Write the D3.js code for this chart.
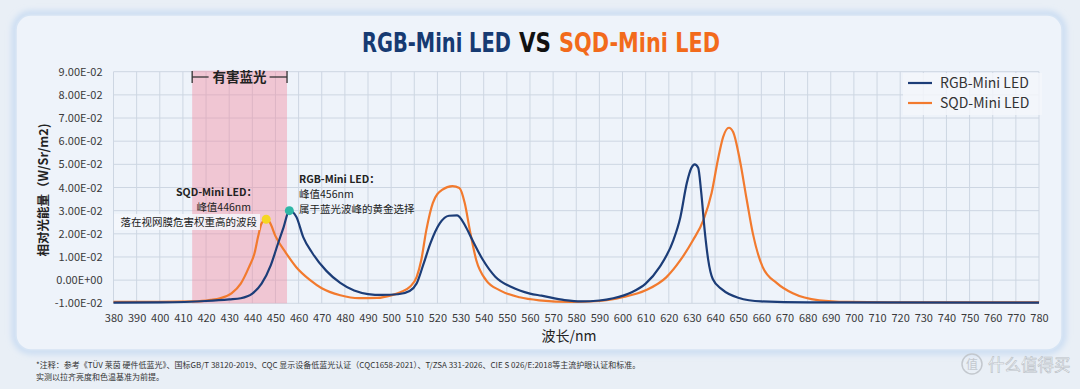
<!DOCTYPE html>
<html><head><meta charset="utf-8">
<script src="https://cdn.jsdelivr.net/npm/d3@7"></script>
<style>
html,body{margin:0;padding:0;background:#e9eff6;}
svg{display:block;font-family:"Noto Sans CJK SC","Noto Sans",sans-serif;}
</style></head>
<body><svg id="c" width="1080" height="389"></svg>
<script>
// ---- data ----
const rgbWave = [380,400,420,430,435,440,444,448,451,453.5,456,459,462,466,472,478,484,490,496,503,508,511,514,517,521,525,528.5,532,535,539.5,545,552,560,565,575,582,590,596,604,610,616,622,625,627.8,629.8,631.2,632.7,634,635.6,637,639,643,650,660,680,780];
const rgbValue = [-0.0097,-0.0096,-0.0090,-0.0083,-0.0078,-0.0058,-0.0015,0.0065,0.0155,0.0228,0.0300,0.0274,0.0186,0.0116,0.0040,-0.0012,-0.0045,-0.0060,-0.0064,-0.0061,-0.0047,-0.0015,0.0070,0.0160,0.0245,0.0278,0.0280,0.0235,0.0175,0.0090,0.0015,-0.0030,-0.0058,-0.0067,-0.0086,-0.0092,-0.0088,-0.0078,-0.0052,-0.0015,0.0056,0.0173,0.0272,0.0420,0.0485,0.0500,0.0485,0.0380,0.0205,0.0090,0.0005,-0.0040,-0.0076,-0.0092,-0.0096,-0.0097];
const sqdWave = [380,400,415,422,426,431,435,438.5,441,442.5,444,446,447.5,450,454.5,459,465,470,478,486,494,500,504,508,511,513,515.2,518,522,526.5,529.5,531.8,534,536.8,541,547,555.5,564,578,590,600,610,619,625,630.5,635,638.5,641.2,643.5,646,647.8,650.7,653.7,656.3,660.6,666.7,673.6,685,697,720,780];
const sqdValue = [-0.0094,-0.0094,-0.0092,-0.0085,-0.0078,-0.0057,-0.0015,0.0055,0.0118,0.0188,0.0245,0.0263,0.0250,0.0190,0.0118,0.0056,0.0000,-0.0035,-0.0065,-0.0078,-0.0077,-0.0066,-0.0052,-0.0030,0.0013,0.0086,0.0216,0.0333,0.0390,0.0406,0.0398,0.0333,0.0216,0.0086,0.0000,-0.0044,-0.0074,-0.0087,-0.0094,-0.0090,-0.0074,-0.0044,0.0013,0.0086,0.0173,0.0260,0.0376,0.0519,0.0619,0.0658,0.0640,0.0519,0.0346,0.0203,0.0056,-0.0013,-0.0057,-0.0087,-0.0094,-0.0096,-0.0096];
const seriesNames = ["RGB-Mini LED","SQD-Mini LED"];
const xTicks = d3.range(380, 781, 10);
const yTicks = [-0.01,0,0.01,0.02,0.03,0.04,0.05,0.06,0.07,0.08,0.09];
const yTickLabels = ["-1.00E-02","0.00E+00","1.00E-02","2.00E-02","3.00E-02","4.00E-02","5.00E-02","6.00E-02","7.00E-02","8.00E-02","9.00E-02"];
const bandRange = [414, 455];
const bandLabel = "有害蓝光";
const sqdPeak = [446, 0.0263];
const rgbPeak = [456, 0.0300];
const sqdNote = ["SQD-Mini LED：","峰值446nm","落在视网膜危害权重高的波段"];
const rgbNote = ["RGB-Mini LED：","峰值456nm","属于蓝光波峰的黄金选择"];
const titleParts = ["RGB-Mini LED","VS","SQD-Mini LED"];
const xTitle = "波长/nm";
const yTitle = "相对光能量（W/Sr/m2)";
const footLines = ["*注释：参考《TÜV 莱茵 硬件低蓝光》、国标GB/T 38120-2019、CQC 显示设备低蓝光认证（CQC1658-2021）、T/ZSA 331-2026、CIE S 026/E:2018等主流护眼认证和标准。","实测以拉齐亮度和色温基准为前提。"];

// ---- drawing ----
const svg = d3.select("#c");
const BLUE = "#1c3d78", ORANGE = "#f27a2e";
const defs = svg.append("defs");
const f = defs.append("filter").attr("id","glow").attr("x","-5%").attr("y","-10%").attr("width","110%").attr("height","120%");
f.append("feGaussianBlur").attr("stdDeviation",3);

// panel
svg.append("rect").attr("x",15).attr("y",14).attr("width",1048).attr("height",337).attr("rx",16)
  .attr("fill","none").attr("stroke","#bfd6f1").attr("stroke-width",5).attr("filter","url(#glow)");
svg.append("rect").attr("x",16).attr("y",15).attr("width",1046).attr("height",335).attr("rx",15)
  .attr("fill","#eef3fa").attr("stroke","#d6e4f4").attr("stroke-width",1.5);

const x = d3.scaleLinear().domain([380,780]).range([113.5,1039]);
const y = d3.scaleLinear().domain([-0.01,0.09]).range([303.3,71.7]);

// grid
const g = svg.append("g");
g.selectAll("line.v").data(xTicks).join("line").attr("class","v")
  .attr("x1",d=>x(d)).attr("x2",d=>x(d)).attr("y1",y(0.09)).attr("y2",y(-0.01))
  .attr("stroke","#cdd6e2").attr("stroke-width",1);
g.selectAll("line.h").data(yTicks).join("line").attr("class","h")
  .attr("x1",x(380)).attr("x2",x(780)).attr("y1",d=>y(d)).attr("y2",d=>y(d))
  .attr("stroke","#cdd6e2").attr("stroke-width",1);

// harmful band
svg.append("rect").attr("x",x(bandRange[0])).attr("y",y(0.09)-1).attr("width",x(bandRange[1])-x(bandRange[0]))
  .attr("height",y(-0.01)-y(0.09)+1).attr("fill","#f2899e").attr("opacity",0.42);
const bx0 = x(bandRange[0]), bx1 = x(bandRange[1]), bmid=(bx0+bx1)/2, by=77;
const br = svg.append("g").attr("stroke","#333").attr("stroke-width",1.3);
br.append("line").attr("x1",bx0).attr("x2",bx0).attr("y1",by-6).attr("y2",by+6);
br.append("line").attr("x1",bx1).attr("x2",bx1).attr("y1",by-6).attr("y2",by+6);
br.append("line").attr("x1",bx0).attr("x2",bmid-31).attr("y1",by).attr("y2",by);
br.append("line").attr("x1",bmid+30).attr("x2",bx1).attr("y1",by).attr("y2",by);
svg.append("text").attr("x",bmid).attr("y",by+5).attr("text-anchor","middle").attr("font-size",13.5)
  .attr("font-weight","bold").attr("fill","#222").text(bandLabel);

// axes labels
const yAxis = d3.axisLeft(y).tickValues(yTicks).tickSize(0).tickFormat((d,i)=>yTickLabels[i]);
svg.append("g").attr("transform",`translate(${x(380)-8},0)`).call(yAxis)
  .call(s=>s.select(".domain").remove())
  .call(s=>s.selectAll("text").attr("font-size",11).attr("fill","#3a3a3a").attr("font-family","'Noto Sans CJK SC',sans-serif").attr("dx",0));
const xAxis = d3.axisBottom(x).tickValues(xTicks).tickSize(0).tickFormat(d3.format("d"));
svg.append("g").attr("transform",`translate(0,${y(-0.01)+8})`).call(xAxis)
  .call(s=>s.select(".domain").remove())
  .call(s=>s.selectAll("text").attr("font-size",11).attr("fill","#3a3a3a").attr("font-family","'Noto Sans CJK SC',sans-serif"));

svg.append("text").attr("x",569).attr("y",341).attr("text-anchor","middle").attr("font-size",14).attr("fill","#222").text(xTitle);
svg.append("text").attr("transform","translate(48,190) rotate(-90)").attr("text-anchor","middle")
  .attr("font-size",12.5).attr("font-weight","bold").attr("fill","#222").text(yTitle);

// lines
const line = d3.line().x(d=>x(d[0])).y(d=>y(d[1])).curve(d3.curveMonotoneX);
const rgbData = rgbWave.map((w,i)=>[w,rgbValue[i]]);
const sqdData = sqdWave.map((w,i)=>[w,sqdValue[i]]);
svg.append("path").datum(sqdData).attr("d",line).attr("fill","none").attr("stroke",ORANGE).attr("stroke-width",2.2);
svg.append("path").datum(rgbData).attr("d",line).attr("fill","none").attr("stroke",BLUE).attr("stroke-width",2.2);

// peak dots
svg.append("circle").attr("cx",x(sqdPeak[0])).attr("cy",y(sqdPeak[1])).attr("r",4.5).attr("fill","#f5d623");
svg.append("circle").attr("cx",x(rgbPeak[0])).attr("cy",y(rgbPeak[1])).attr("r",4.5).attr("fill","#2fb7a6");

// annotations
svg.append("rect").attr("x",114).attr("y",214).attr("width",146).attr("height",16).attr("fill","#f4f7fb").attr("opacity",0.85);
const sa = svg.append("g").attr("font-size",10.5).attr("fill","#222").attr("text-anchor","end");
sa.append("text").attr("x",257).attr("y",196).attr("font-weight","bold").text(sqdNote[0]);
sa.append("text").attr("x",251).attr("y",211).text(sqdNote[1]);
sa.append("text").attr("x",257).attr("y",226).text(sqdNote[2]);
const ra = svg.append("g").attr("font-size",10.5).attr("fill","#222");
ra.append("text").attr("x",299).attr("y",183).attr("font-weight","bold").text(rgbNote[0]);
ra.append("text").attr("x",299).attr("y",198).text(rgbNote[1]);
ra.append("text").attr("x",299).attr("y",213).text(rgbNote[2]);

// legend
svg.append("rect").attr("x",903).attr("y",73).attr("width",139).attr("height",42).attr("fill","#f3f6fa").attr("opacity",0.85);
const lg = svg.append("g");
[BLUE,ORANGE].forEach((c,i)=>{
  lg.append("line").attr("x1",908).attr("x2",932).attr("y1",83+i*20).attr("y2",83+i*20).attr("stroke",c).attr("stroke-width",2.2);
  lg.append("text").attr("x",940).attr("y",88+i*20).attr("font-size",14).attr("fill","#333").text(seriesNames[i]);
});

// title (each part scaled horizontally to its measured target width)
const tf = "'DejaVu Sans Condensed','DejaVu Sans',sans-serif";
const tParts = [[362,149,"#163a72"],[519,32,"#111"],[559,161,"#f26a1b"]];
titleParts.forEach((s,i)=>{
  const el = svg.append("text").attr("x",0).attr("y",0).attr("font-size",27).attr("font-weight","bold")
    .attr("font-family",tf).attr("fill",tParts[i][2]).text(s);
  const w = el.node().getComputedTextLength();
  el.attr("transform",`translate(${tParts[i][0]},52) scale(${tParts[i][1]/w},1)`);
});

// footnote
footLines.forEach((s,i)=>{
  svg.append("text").attr("x",36).attr("y",368+i*12).attr("font-size",8).attr("fill","#333").text(s);
});
// watermark
svg.append("circle").attr("cx",972).attr("cy",364).attr("r",10).attr("fill","none").attr("stroke","#c3c8ce").attr("stroke-width",1.5);
svg.append("text").attr("x",972).attr("y",369).attr("text-anchor","middle").attr("font-size",12).attr("fill","#c3c8ce").text("值");
svg.append("text").attr("x",988).attr("y",371).attr("font-size",16.5).attr("fill","#f6f8fa").attr("stroke","#b9bfc6").attr("stroke-width",0.6).text("什么值得买");
</script></body></html>
